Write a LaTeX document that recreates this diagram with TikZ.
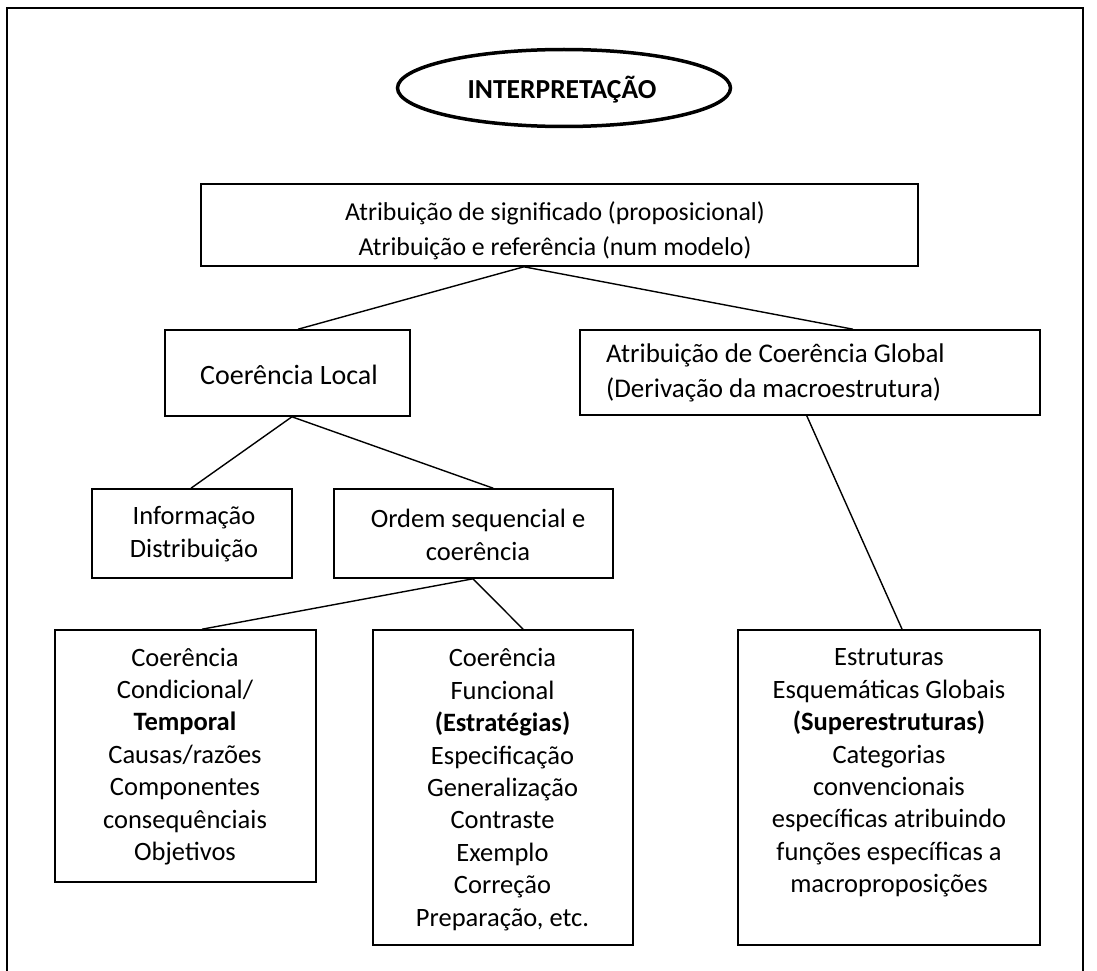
\documentclass[tikz,border=0pt]{standalone}
\usepackage{fontspec}
\setmainfont{Carlito}
\usetikzlibrary{calc,shapes.geometric}
\begin{document}
\begin{tikzpicture}[x=1pt,y=-1pt,
  box/.style={draw, line width=1.6pt, rectangle, inner sep=0pt},
  txt/.style={inner sep=0pt, align=center, font=\fontsize{26.5}{32.4}\selectfont},
  link/.style={line width=1.4pt}]
\useasboundingbox (0,0) rectangle (1097,971);
\draw[line width=1.6pt] (7,971) -- (7,8) -- (1083,8) -- (1083,971);
% ellipse
\node[draw, ellipse, line width=3.5pt, minimum width=333pt, minimum height=77pt, inner sep=0pt] (interp) at (564,88) {};
\node[txt, font=\fontsize{27.5}{32.4}\selectfont\bfseries] (tinterp) at (562,90) {INTERPRETAÇÃO};
% boxes
\node[box, minimum width=717pt, minimum height=82pt] (top) at (559.5,225) {};
\node[box, minimum width=245pt, minimum height=86pt] (local) at (287.5,373) {};
\node[box, minimum width=460pt, minimum height=85pt] (global) at (810,372.5) {};
\node[box, minimum width=200pt, minimum height=89pt] (info) at (192,533.5) {};
\node[box, minimum width=279pt, minimum height=89pt] (ordem) at (473.5,533.5) {};
\node[box, minimum width=261pt, minimum height=252pt] (cond) at (185.5,756) {};
\node[box, minimum width=260pt, minimum height=315pt] (func) at (503,787.5) {};
\node[box, minimum width=302pt, minimum height=315pt] (esq) at (889,787.5) {};
% texts
\node[txt, font=\fontsize{25.8}{34.5}\selectfont] (ttop) at (555,230.5) {Atribuição de significado (proposicional)\\Atribuição e referência (num modelo)};
\node[txt, font=\fontsize{28}{34}\selectfont] (tlocal) at (289,375) {Coerência Local};
\node[txt, align=left, anchor=west, font=\fontsize{27}{35}\selectfont] (tglobal) at (606,372.5) {Atribuição de Coerência Global\\(Derivação da macroestrutura)};
\node[txt] (tinfo) at (194,534) {Informação\\Distribuição};
\node[txt] (tordem) at (478,535) {Ordem sequencial e\\coerência};
\node[txt] (tcond) at (185,756.5) {Coerência\\Condicional/\\\textbf{Temporal}\\Causas/razões\\Componentes\\consequênciais\\Objetivos};
\node[txt] (tfunc) at (502.5,789.5) {Coerência\\Funcional\\\textbf{(Estratégias)}\\Especificação\\Generalização\\Contraste\\Exemplo\\Correção\\Preparação, etc.};
\node[txt] (tesq) at (889,773) {Estruturas\\Esquemáticas Globais\\\textbf{(Superestruturas)}\\Categorias\\convencionais\\específicas atribuindo\\funções específicas a\\macroproposições};
% connectors
\draw[link] ($(top.south west)!0.4505!(top.south east)$) -- ($(local.north west)!0.543!(local.north east)$);
\draw[link] ($(top.south west)!0.4505!(top.south east)$) -- ($(global.north west)!0.593!(global.north east)$);
\draw[link] ($(local.south west)!0.518!(local.south east)$) -- ($(info.north west)!0.495!(info.north east)$);
\draw[link] ($(local.south west)!0.518!(local.south east)$) -- ($(ordem.north west)!0.570!(ordem.north east)$);
\draw[link] ($(ordem.south west)!0.498!(ordem.south east)$) -- ($(cond.north west)!0.563!(cond.north east)$);
\draw[link] ($(ordem.south west)!0.498!(ordem.south east)$) -- ($(func.north west)!0.577!(func.north east)$);
\draw[link] ($(global.south west)!0.493!(global.south east)$) -- ($(esq.north west)!0.543!(esq.north east)$);
\end{tikzpicture}
\end{document}
